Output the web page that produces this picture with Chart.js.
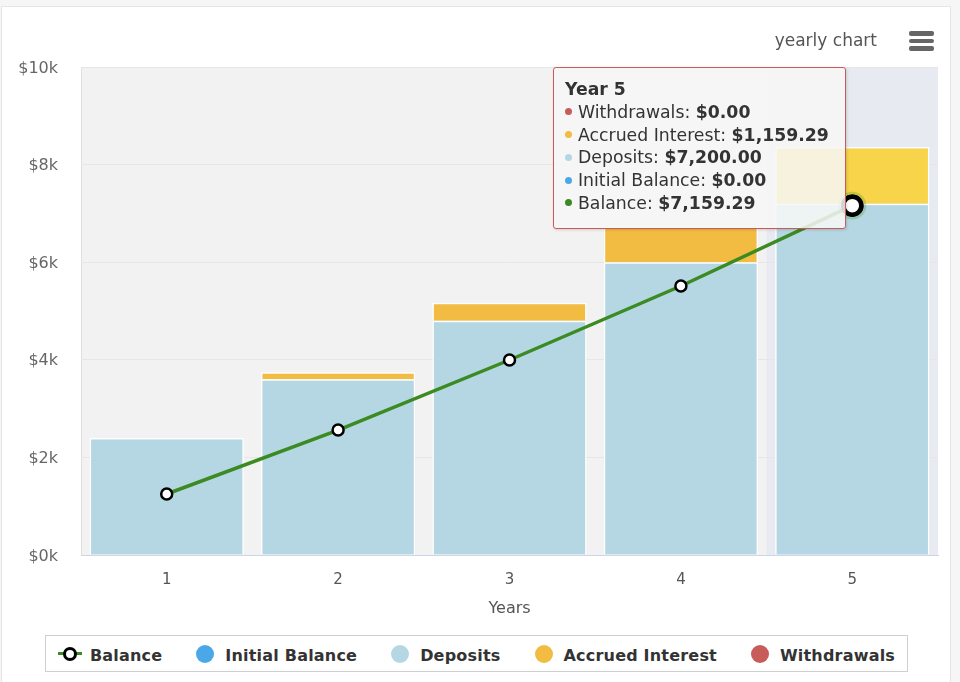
<!DOCTYPE html>
<html>
<head>
<meta charset="utf-8">
<script src="https://cdn.jsdelivr.net/npm/chart.js@4.4.1/dist/chart.umd.min.js"></script>
<style>
  html, body { margin: 0; padding: 0; background: #f6f6f6; font-family: "DejaVu Sans", sans-serif; }
  #wrap { position: relative; width: 960px; height: 682px; overflow: hidden; }
  #card { position: absolute; left: 1px; top: 6px; width: 948px; height: 700px; background: #fff; border: 1px solid #e6e6e6; }
  #chart { position: absolute; left: 0; top: 0; }
  #title { position: absolute; right: 83px; top: 30px; font-size: 17px; color: #555; }
  #menu { position: absolute; left: 909px; top: 31px; width: 25px; }
  #menu span { display: block; height: 4.5px; margin-bottom: 3px; background: #666; border-radius: 2px; }
  #tip { position: absolute; box-sizing: border-box; width: 293px; height: 162px; padding: 10px 11px;
         background: rgba(247,247,247,0.86); border: 1px solid #c95a58; border-radius: 3px;
         box-shadow: 1px 1px 3px rgba(0,0,0,0.15); font-size: 17.3px; color: #333; line-height: 22.8px; }
  #tip .t { font-weight: bold; }
  #tip .d { display: inline-block; width: 7px; height: 7px; border-radius: 50%; margin: 0 6px 2px 0; vertical-align: middle; }
  #legend { position: absolute; left: 45px; top: 635px; width: 863px; height: 37px; box-sizing: border-box; padding-top: 3px;
            border: 1px solid #cfcfcf; background: #fff; display: flex; align-items: center; justify-content: center;
            column-gap: 34px; white-space: nowrap;
            font-size: 16px; font-weight: bold; color: #333; letter-spacing: 0.2px; }
  #legend .item { display: flex; align-items: center; flex: none; }
  #legend .dot { width: 18px; height: 18px; border-radius: 50%; margin-right: 11px; margin-top: -3px; }
  #legend .ln { position: relative; width: 24px; height: 18px; margin-right: 8px; margin-top: -3px; }
  #legend .ln i { position: absolute; left: 0; top: 7.5px; width: 24px; height: 3px; background: #3b8a22; }
  #legend .ln b { position: absolute; left: 5px; top: 2px; width: 8px; height: 8px; border: 3px solid #000; border-radius: 50%; background: #fff; }
</style>
</head>
<body>
<div id="wrap">
  <div id="card"></div>
  <canvas id="chart" width="960" height="682"></canvas>
  <div id="title">yearly chart</div>
  <div id="menu"><span></span><span></span><span></span></div>
  <div id="tip"></div>
  <div id="legend"></div>
</div>
<script>
// values
const years = ["1", "2", "3", "4", "5"];
const initialBalance = [0, 0, 0, 0, 0];
const deposits = [2400, 3600, 4800, 6000, 7200];
const accruedInterest = [0, 145, 370, 720, 1159.29];
const withdrawals = [0, 0, 0, 0, 0];
const balance = [1250, 2561, 3996, 5512, 7159.29];
const yTicks = [0, 2000, 4000, 6000, 8000, 10000];
const activeYear = 4; // index of "Year 5", the hovered column

const colors = {
  balance: "#3b8a22",
  initial: "#4ba8e8",
  deposits: "#b5d7e3",
  interest: "#f1bc41",
  interestHover: "#f8d44a",
  withdrawals: "#c75c5a",
};

function money(v) {
  return "$" + v.toLocaleString("en-US", { minimumFractionDigits: 2, maximumFractionDigits: 2 });
}

// plot background, border, hover band and point halo
const plotBackground = {
  id: "plotBackground",
  beforeDraw(chart) {
    const { ctx, chartArea: a, scales } = chart;
    ctx.save();
    ctx.fillStyle = "#f2f2f2";
    ctx.fillRect(a.left, a.top, a.right - a.left, a.bottom - a.top);
    const step = (a.right - a.left) / years.length;
    const cx = scales.x.getPixelForValue(activeYear);
    ctx.fillStyle = "rgba(204,214,235,0.3)";
    ctx.fillRect(cx - step / 2, a.top, step, a.bottom - a.top);
    ctx.strokeStyle = "#e0e0e0";
    ctx.lineWidth = 1;
    ctx.beginPath();
    ctx.moveTo(a.left + 0.5, a.bottom);
    ctx.lineTo(a.left + 0.5, a.top + 0.5);
    ctx.lineTo(a.right, a.top + 0.5);
    ctx.stroke();
    ctx.restore();
  },
  afterDatasetsDraw(chart) {
    const pt = chart.getDatasetMeta(0).data[activeYear];
    const { ctx } = chart;
    ctx.save();
    ctx.fillStyle = "rgba(59,138,34,0.25)";
    ctx.beginPath();
    ctx.arc(pt.x, pt.y, 14, 0, Math.PI * 2);
    ctx.fill();
    ctx.restore();
    pt.draw(ctx, chart.chartArea);
  },
};

const ctx = document.getElementById("chart").getContext("2d");
Chart.defaults.font.family = '"DejaVu Sans", sans-serif';

const chart = new Chart(ctx, {
  type: "bar",
  data: {
    labels: years,
    datasets: [
      {
        type: "line",
        label: "Balance",
        data: balance,
        borderColor: colors.balance,
        borderWidth: 3.5,
        pointBackgroundColor: "#fff",
        pointBorderColor: "#000",
        pointRadius: [5.5, 5.5, 5.5, 5.5, 9],
        pointBorderWidth: [2.5, 2.5, 2.5, 2.5, 4.5],
        tension: 0,
        order: 0,
      },
      {
        label: "Initial Balance",
        data: initialBalance,
        backgroundColor: colors.initial,
        borderColor: "#fff",
        borderWidth: 0,
        stack: "s",
        order: 1,
      },
      {
        label: "Deposits",
        data: deposits,
        backgroundColor: colors.deposits,
        borderColor: "#fff",
        borderWidth: 1.5,
        stack: "s",
        order: 1,
      },
      {
        label: "Accrued Interest",
        data: accruedInterest,
        backgroundColor: years.map((y, i) => (i === activeYear ? colors.interestHover : colors.interest)),
        borderColor: "#fff",
        borderWidth: 1.5,
        stack: "s",
        order: 1,
      },
      {
        label: "Withdrawals",
        data: withdrawals,
        backgroundColor: colors.withdrawals,
        borderWidth: 0,
        stack: "s",
        order: 1,
      },
    ],
  },
  options: {
    responsive: false,
    animation: false,
    events: [],
    categoryPercentage: 1,
    barPercentage: 0.9,
    layout: { padding: { left: 0, right: 22, top: 67, bottom: 57 } },
    plugins: {
      legend: { display: false },
      tooltip: { enabled: false },
    },
    scales: {
      x: {
        stacked: true,
        grid: { display: false, drawTicks: false },
        border: { color: "#ccd6eb", width: 1 },
        ticks: { color: "#555", font: { size: 15 }, padding: 16 },
        title: { display: true, text: "Years", color: "#555", font: { size: 16 }, padding: { top: 4, bottom: 7 } },
        afterFit(scale) { scale.height = 70; },
      },
      y: {
        stacked: true,
        min: 0,
        max: 10000,
        afterBuildTicks(scale) { scale.ticks = yTicks.map((v) => ({ value: v })); },
        grid: { color: "#e6e6e6", drawTicks: false },
        border: { display: false },
        ticks: {
          color: "#666",
          font: { size: 16 },
          padding: 23,
          labelOffset: 1.5,
          callback: (v) => "$" + v / 1000 + "k",
        },
        afterFit(scale) { scale.width = 81; },
      },
    },
  },
  plugins: [plotBackground],
});

// tooltip for the hovered year, built from the data arrays
const tipRows = [
  ["Withdrawals", withdrawals, colors.withdrawals],
  ["Accrued Interest", accruedInterest, colors.interest],
  ["Deposits", deposits, colors.deposits],
  ["Initial Balance", initialBalance, colors.initial],
  ["Balance", balance, colors.balance],
];
const tip = document.getElementById("tip");
tip.innerHTML =
  '<div class="t">Year ' + years[activeYear] + "</div>" +
  tipRows
    .map((r) => '<div><span class="d" style="background:' + r[2] + '"></span>' + r[0] + ": <b>" + money(r[1][activeYear]) + "</b></div>")
    .join("");
const pt = chart.getDatasetMeta(0).data[activeYear];
tip.style.left = Math.round(pt.x - 299) + "px";
tip.style.top = Math.round(chart.chartArea.top) + "px";

// legend
const legendItems = [
  ["Balance", null],
  ["Initial Balance", colors.initial],
  ["Deposits", colors.deposits],
  ["Accrued Interest", colors.interest],
  ["Withdrawals", colors.withdrawals],
];
document.getElementById("legend").innerHTML = legendItems
  .map((it) =>
    '<div class="item">' +
    (it[1] ? '<span class="dot" style="background:' + it[1] + '"></span>' : '<span class="ln"><i></i><b></b></span>') +
    it[0] + "</div>")
  .join("");
</script>
</body>
</html>
